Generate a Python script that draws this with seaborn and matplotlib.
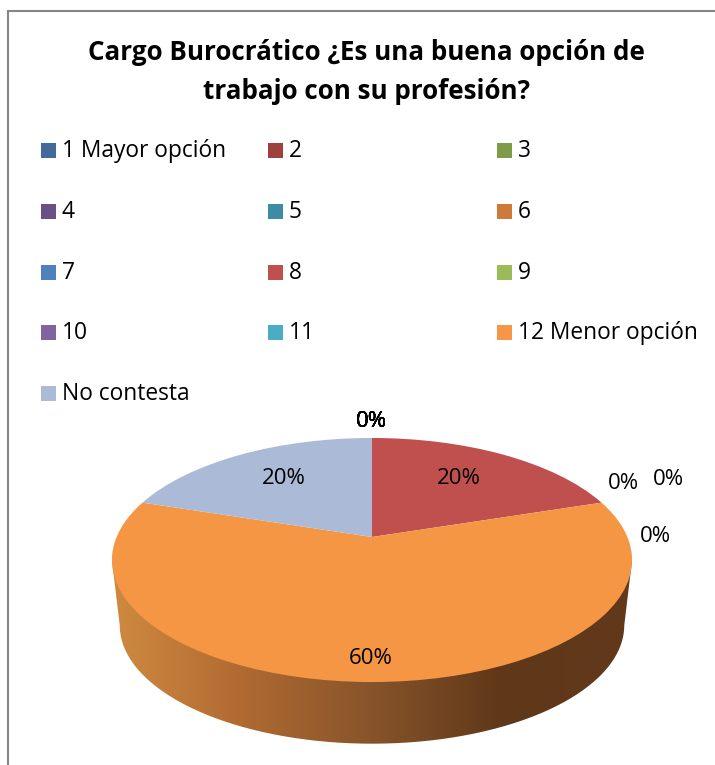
import numpy as np
import seaborn as sns
import matplotlib
matplotlib.use("Agg")
import matplotlib.pyplot as plt
from matplotlib.colors import LinearSegmentedColormap
from matplotlib.lines import Line2D
from matplotlib.patches import Rectangle
from matplotlib.path import Path
from matplotlib.transforms import Transform

title = "Cargo Burocrático ¿Es una buena opción de\ntrabajo con su profesión?"
categories = ["1 Mayor opción", "2", "3", "4", "5", "6", "7", "8", "9", "10", "11",
              "12 Menor opción", "No contesta"]
values = [0, 20, 0, 0, 0, 0, 0, 0, 0, 0, 0, 60, 20]
legend_colors = ["#426A9B", "#9E413E", "#7F9A48", "#695185", "#3C8DA3", "#CC7B38", "#4F81BD",
                 "#C0504D", "#9BBB59", "#8064A2", "#4BACC6", "#F79646", "#AABAD7"]
pie_colors = ["#4F81BD", "#C0504D", "#9BBB59", "#8064A2", "#4BACC6", "#F79646", "#4F81BD",
              "#C0504D", "#9BBB59", "#8064A2", "#4BACC6", "#F59645", "#AABAD7"]
wall_colors = ["#CF8A40", "#B06A32", "#87542A", "#5F3819", "#623A1B"]

# where the percent labels sit, in pixels (one per category)
label_xy = [(371, 421), (459, 478), (623, 483), (668, 479), (655, 537), (371, 421), (371, 421),
            (371, 421), (371, 421), (371, 421), (371, 421), (371, 658), (284, 478)]

sns.set_theme(style="white")
plt.rcParams["font.family"] = ["Open Sans", "DejaVu Sans"]


class Tilt(Transform):
    # unit circle -> tilted disc on the page, near edge bigger than far edge
    input_dims = 2
    output_dims = 2

    def __init__(self, scale=1.0, drop=0.0):
        super().__init__()
        self.scale = scale
        self.drop = drop

    def transform_non_affine(self, values):
        xy = np.asarray(values, dtype=float)
        w = 1 + 0.1885 * xy[:, 1]
        px = 372 + self.scale * 255.4 * xy[:, 0] / w
        py = 537 + self.drop - self.scale * 117.7 * xy[:, 1] / w
        return np.column_stack([px, py])


fig = plt.figure(figsize=(7.15, 7.65), dpi=100)
ax = fig.add_axes([0, 0, 1, 1])

wedges, _ = ax.pie(values, colors=pie_colors, startangle=90, counterclock=False,
                   wedgeprops={"linewidth": 0})
ax.set_aspect("auto")
ax.set_xlim(0, 715)
ax.set_ylim(765, 0)
for w in wedges:
    w.set_transform(Tilt() + ax.transData)
    w.set_zorder(3)

# side wall of the biggest slice
big = wedges[int(np.argmax(values))]
t = np.radians(np.linspace(big.theta1, big.theta2, 300))
rim = np.column_stack([np.cos(t), np.sin(t)])
upper = Tilt().transform(rim)
lower = Tilt(0.97, 66).transform(rim)
i0, i1 = sorted([int(np.argmin(lower[:, 0])), int(np.argmax(lower[:, 0]))])
outline = np.vstack([upper[np.argmin(upper[:, 0])], lower[i0:i1 + 1], upper[np.argmax(upper[:, 0])]])
outline = np.vstack([outline, outline[0]])
cmap = LinearSegmentedColormap.from_list("wall", wall_colors)
im = ax.imshow(np.linspace(0, 1, 256)[None, :], cmap=cmap, aspect="auto", zorder=2,
               extent=(112, 632, 765, 400))
im.set_clip_path(Path(outline), transform=ax.transData)
ax.set_xlim(0, 715)
ax.set_ylim(765, 0)

# percent labels
for v, (x, y) in zip(values, label_xy):
    ax.text(x, y, f"{v}%", ha="center", va="center", fontsize=16, color="#000000", zorder=5)

# legend, three columns filled row by row
col_x = [41, 268, 497]
row_y = [150, 211, 272, 332, 393]
for i, (name, c) in enumerate(zip(categories, legend_colors)):
    x = col_x[i % 3]
    y = row_y[i // 3]
    ax.add_patch(Rectangle((x, y - 7.5), 15, 15, facecolor=c, edgecolor="none", zorder=4))
    ax.text(x + 21, y + 0.5, name, ha="left", va="center", fontsize=16.4, color="#000000", zorder=5)

ax.text(366.5, 72, title, ha="center", va="center", fontsize=18.7, fontweight="bold",
        linespacing=1.55, color="#000000", zorder=5)

# chart border, only top and left are inside the crop
for xs, ys in [((8, 8), (765, 11)), ((8, 715), (11, 11))]:
    ax.add_line(Line2D(xs, ys, color="#868686", linewidth=1.5, zorder=6))

fig.savefig("out.png", dpi=100)
